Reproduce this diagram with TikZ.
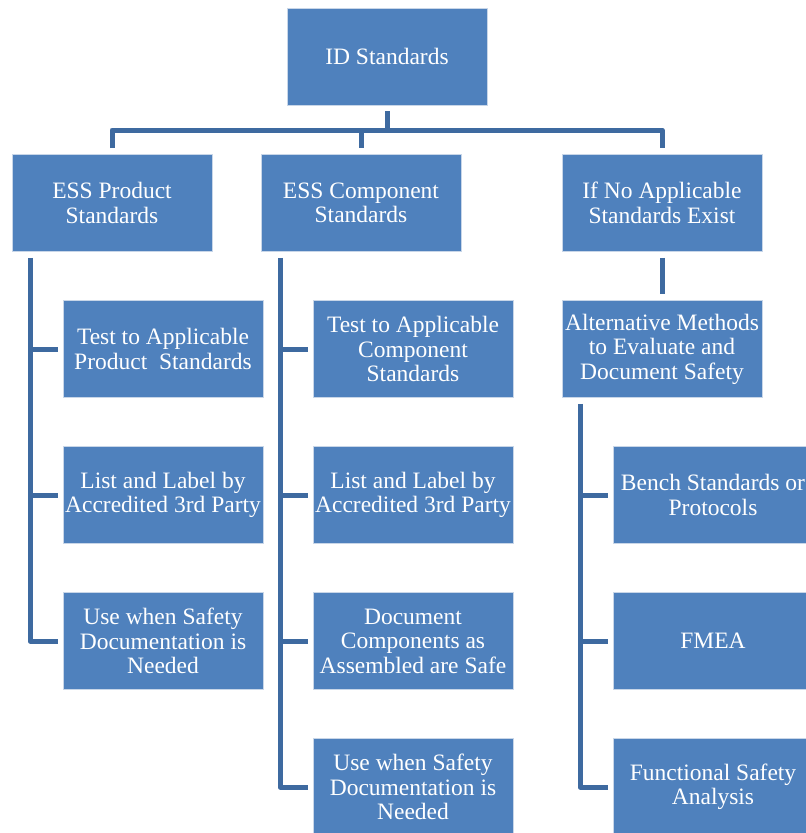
\documentclass[tikz,border=0pt]{standalone}
\usepackage{fontspec}
\setmainfont{Liberation Serif}
\definecolor{boxfill}{RGB}{79,129,189}
\definecolor{boxedge}{RGB}{200,214,232}
\definecolor{linecol}{RGB}{62,106,160}
\begin{document}
\begin{tikzpicture}[x=1pt,y=-1pt,
  box/.style={draw=boxedge,line width=0.8pt,fill=boxfill,text=white,minimum width=200pt,minimum height=97pt,
    inner sep=0pt,align=center,font=\fontsize{23.5}{24.5}\selectfont},
  conn/.style={draw=linecol,line width=5pt,line join=round}]
\useasboundingbox (0,0) rectangle (806,833);
\fill[white] (0,0) rectangle (806,833);
% nodes
\node[box] (id) at (387,56.5) {ID Standards};
\node[box] (p1) at (112,203) {ESS Product\\Standards};
\node[box] (c1) at (361,203) {ESS Component\\Standards};
\node[box] (n1) at (662,203) {If No Applicable\\Standards Exist};
\node[box] (p2) at (163,349) {Test to Applicable\\Product\ \ Standards};
\node[box] (p3) at (163,495) {List and Label by\\Accredited 3rd Party};
\node[box] (p4) at (163,641) {Use when Safety\\Documentation is\\Needed};
\node[box] (c2) at (413,349) {Test to Applicable\\Component\\Standards};
\node[box] (c3) at (413,495) {List and Label by\\Accredited 3rd Party};
\node[box] (c4) at (413,641) {Document\\Components as\\Assembled are Safe};
\node[box] (c5) at (413,787) {Use when Safety\\Documentation is\\Needed};
\node[box] (n2) at (662,349) {Alternative Methods\\to Evaluate and\\Document Safety};
\node[box] (n3) at (713,495) {Bench Standards or\\Protocols};
\node[box] (n4) at (713,641) {FMEA};
\node[box] (n5) at (713,787) {Functional Safety\\Analysis};
% connector coordinates
\coordinate (bar) at (0,130);
\coordinate (pl) at (30,0);
\coordinate (cl) at (280,0);
\coordinate (nl) at (580,0);
% top tree
\draw[conn] ([yshift=-6pt]id.south) -- (id.south |- bar);
\draw[conn] ([yshift=6pt]p1.north) -- (p1.north |- bar) -- (n1.north |- bar) -- ([yshift=6pt]n1.north);
\draw[conn] (c1.north |- bar) -- ([yshift=6pt]c1.north);
% product branch
\draw[conn] ([yshift=-6pt]p1.south -| pl) |- ([xshift=-5pt]p4.west);
\draw[conn] (p2.west -| pl) -- ([xshift=-5pt]p2.west);
\draw[conn] (p3.west -| pl) -- ([xshift=-5pt]p3.west);
% component branch
\draw[conn] ([yshift=-6pt]c1.south -| cl) |- ([xshift=-5pt]c5.west);
\draw[conn] (c2.west -| cl) -- ([xshift=-5pt]c2.west);
\draw[conn] (c3.west -| cl) -- ([xshift=-5pt]c3.west);
\draw[conn] (c4.west -| cl) -- ([xshift=-5pt]c4.west);
% no-standards branch
\draw[conn] ([yshift=-6pt]n1.south) -- ([yshift=6pt]n2.north);
\draw[conn] ([yshift=-6pt]n2.south -| nl) |- ([xshift=-5pt]n5.west);
\draw[conn] (n3.west -| nl) -- ([xshift=-5pt]n3.west);
\draw[conn] (n4.west -| nl) -- ([xshift=-5pt]n4.west);
\end{tikzpicture}
\end{document}
